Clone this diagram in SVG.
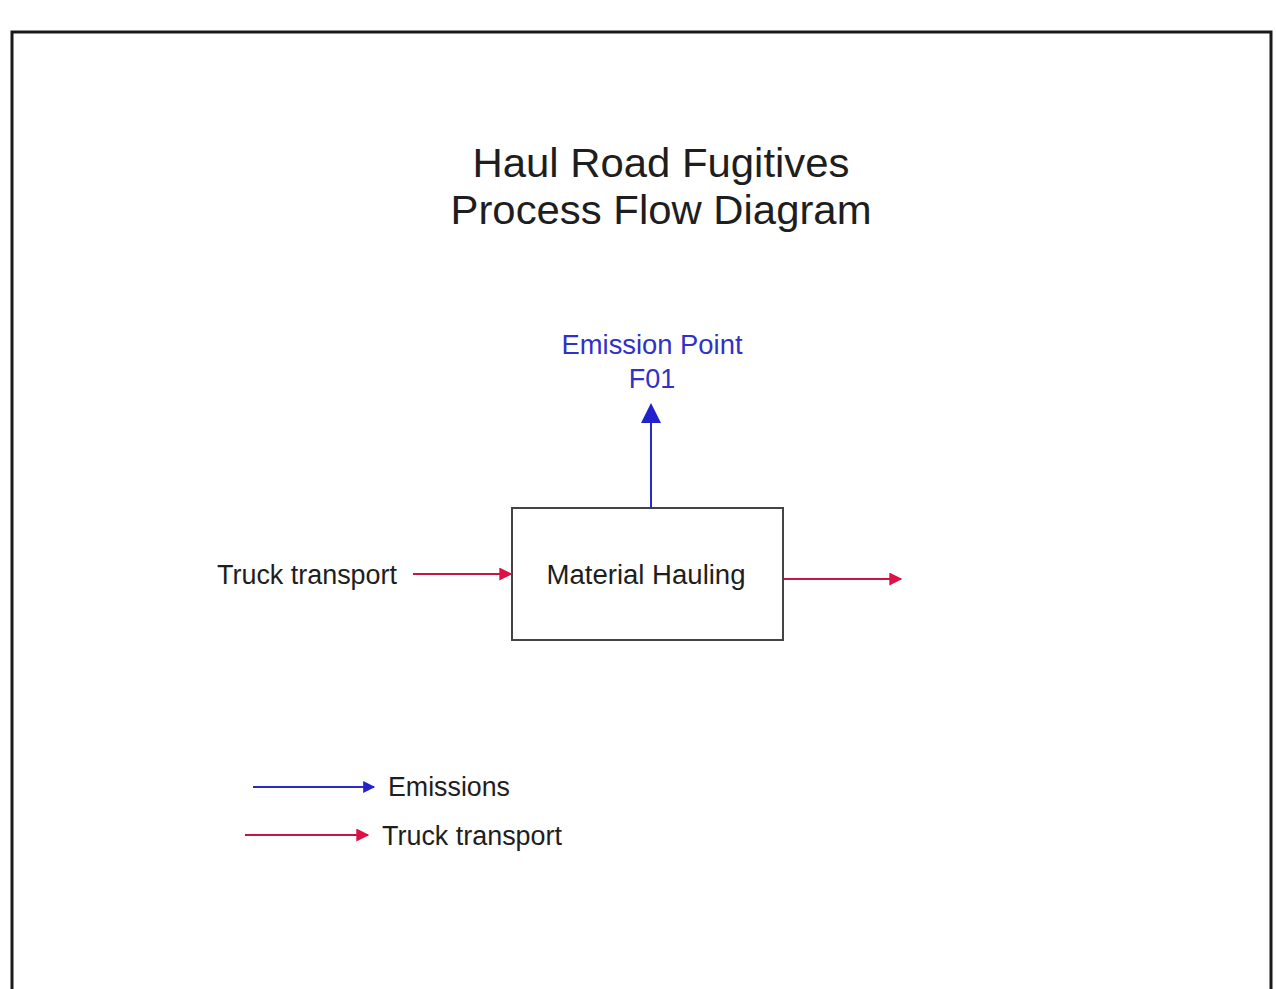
<svg xmlns="http://www.w3.org/2000/svg" width="1276" height="989" viewBox="0 0 1276 989">
<defs>
<style>
text{font-family:"Liberation Sans",Arial,sans-serif;fill:#1e1e1e}
.title{font-size:41px}
.lbl{font-size:27px}
.blue{fill:#3131c8}
.emis{stroke:#2a2ac8;stroke-width:2;fill:none}
.truck{stroke:#cc1144;stroke-width:2;fill:none}
</style>
<marker id="abXL" viewBox="0 0 10 10" refX="9" refY="5" markerWidth="20" markerHeight="20" orient="auto" markerUnits="userSpaceOnUse"><path d="M0,0 L10,5 L0,10 z" fill="#2222cc"/></marker>
<marker id="abL" viewBox="0 0 10 10" refX="9" refY="5" markerWidth="16" markerHeight="12" orient="auto" markerUnits="userSpaceOnUse"><path d="M0,0 L10,5 L0,10 z" fill="#2222cc"/></marker>
<marker id="arL" viewBox="0 0 10 10" refX="9" refY="5" markerWidth="18" markerHeight="13" orient="auto" markerUnits="userSpaceOnUse"><path d="M0,0 L10,5 L0,10 z" fill="#dd1144"/></marker>
</defs>
<rect width="1276" height="989" fill="#fff"/>
<rect x="12" y="32" width="1259" height="980" fill="none" stroke="#1a1a1a" stroke-width="3"/>
<g id="title">
<text class="title" x="661" y="177" text-anchor="middle" textLength="377" lengthAdjust="spacingAndGlyphs">Haul Road Fugitives</text>
<text class="title" x="661" y="224" text-anchor="middle" textLength="421" lengthAdjust="spacingAndGlyphs">Process Flow Diagram</text>
</g>
<g id="emission-point">
<text class="lbl blue" x="652" y="354" text-anchor="middle" textLength="181" lengthAdjust="spacingAndGlyphs">Emission Point</text>
<text class="lbl blue" x="652" y="388" text-anchor="middle">F01</text>
</g>
<g id="material-hauling">
<rect x="512" y="508" width="271" height="132" fill="#fff" stroke="#444" stroke-width="2"/>
<text class="lbl" x="646" y="584" text-anchor="middle" textLength="199" lengthAdjust="spacingAndGlyphs">Material Hauling</text>
</g>
<g id="truck-in">
<text class="lbl" x="217" y="584" textLength="180" lengthAdjust="spacingAndGlyphs">Truck transport</text>
</g>
<g id="connectors">
<line class="emis" x1="651" y1="508" x2="651" y2="405" marker-end="url(#abXL)"/>
<line class="truck" x1="413" y1="574" x2="511" y2="574" marker-end="url(#arL)"/>
<line class="truck" x1="784" y1="579" x2="901" y2="579" marker-end="url(#arL)"/>
</g>
<g id="legend">
<line class="emis" x1="253" y1="787" x2="374" y2="787" marker-end="url(#abL)"/>
<text class="lbl" x="388" y="796" textLength="122" lengthAdjust="spacingAndGlyphs">Emissions</text>
<line class="truck" x1="245" y1="835" x2="368" y2="835" marker-end="url(#arL)"/>
<text class="lbl" x="382" y="845" textLength="180" lengthAdjust="spacingAndGlyphs">Truck transport</text>
</g>
</svg>
